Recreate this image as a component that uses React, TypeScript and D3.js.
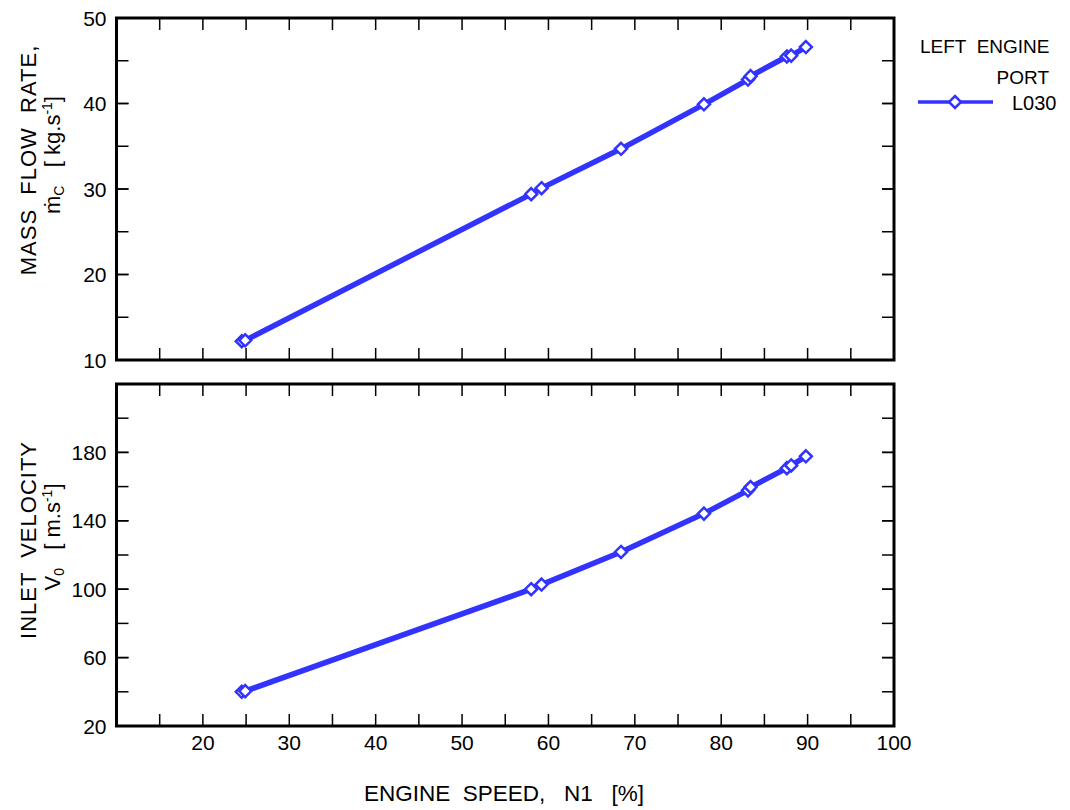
import * as d3 from "d3";

// engine speed N1 [%] for each test point
const n1 = [24.5, 24.9, 58.0, 59.2, 68.4, 78.0, 83.1, 83.4, 87.6, 88.1, 89.8];
// mass flow rate [kg/s]
const massFlow = [12.2, 12.3, 29.4, 30.1, 34.7, 39.9, 42.8, 43.2, 45.5, 45.6, 46.6];
// inlet velocity [m/s]
const velocity = [40.0, 40.4, 100.0, 102.7, 121.8, 144.2, 157.8, 159.7, 170.8, 172.4, 177.7];

const xTicks = d3.range(15, 100, 5);
const xLabels = [20, 30, 40, 50, 60, 70, 80, 90, 100];
const flowTicks = [15, 20, 25, 30, 35, 40, 45];
const flowLabels = [10, 20, 30, 40, 50];
const velTicks = [40, 60, 80, 100, 120, 140, 160, 180, 200];
const velLabels = [20, 60, 100, 140, 180];

const BLUE = "#3333ff";
const FONT = "'Liberation Sans', Arial, sans-serif";
const TICK = 12;

const x = d3.scaleLinear().domain([10, 100]).range([116.5, 894]);
const yFlow = d3.scaleLinear().domain([10, 50]).range([360, 18]);
const yVel = d3.scaleLinear().domain([20, 220]).range([726, 384]);

const diamond = (r: number) => `M0,${-r}L${r},0L0,${r}L${-r},0Z`;

const Panel = ({ y, ys, ticks, labels }: { y: d3.ScaleLinear<number, number>; ys: number[]; ticks: number[]; labels: number[] }) => {
  const [x0, x1] = x.range();
  const [yb, yt] = y.range();
  const pts: [number, number][] = n1.map((v, i) => [x(v), y(ys[i])]);
  const line = d3.line()(pts) || "";
  const yAll = [...ticks, ...labels.filter(v => v !== y.domain()[0] && v !== y.domain()[1])];
  return (
    <g>
      {/* ticks on all four sides, pointing inward */}
      {xTicks.map(t => (
        <g key={"x" + t} stroke="#000" strokeWidth={1.5}>
          <line x1={x(t)} x2={x(t)} y1={yb} y2={yb - TICK} />
          <line x1={x(t)} x2={x(t)} y1={yt} y2={yt + TICK} />
        </g>
      ))}
      {yAll.map(t => (
        <g key={"y" + t} stroke="#000" strokeWidth={1.5}>
          <line x1={x0} x2={x0 + TICK} y1={y(t)} y2={y(t)} />
          <line x1={x1} x2={x1 - TICK} y1={y(t)} y2={y(t)} />
        </g>
      ))}
      <rect x={x0} y={yt} width={x1 - x0} height={yb - yt} fill="none" stroke="#000" strokeWidth={3} />
      {labels.map(t => (
        <text key={"l" + t} x={x0 - 10} y={y(t)} dy="0.36em" textAnchor="end" fontSize={21} fontFamily={FONT}>
          {t}
        </text>
      ))}
      <path d={line} fill="none" stroke={BLUE} strokeWidth={5.5} strokeLinejoin="round" />
      {pts.map((p, i) => (
        <path key={i} d={diamond(6)} transform={`translate(${p[0]},${p[1]})`} fill="#fff" stroke={BLUE} strokeWidth={2.5} />
      ))}
    </g>
  );
};

export default function App() {
  return (
    <svg width={1070} height={810} style={{ position: "absolute", left: 0, top: 0, background: "#fff" }}>
      <Panel y={yFlow} ys={massFlow} ticks={flowTicks} labels={flowLabels} />
      <Panel y={yVel} ys={velocity} ticks={velTicks} labels={velLabels} />

      {/* x tick labels */}
      {xLabels.map(t => (
        <text key={t} x={x(t)} y={750} textAnchor="middle" fontSize={21} fontFamily={FONT}>
          {t}
        </text>
      ))}
      <text x={504} y={801} textAnchor="middle" fontSize={22.5} fontFamily={FONT} xmlSpace="preserve">
        {"ENGINE  SPEED,   N1   [%]"}
      </text>

      {/* y axis titles */}
      <g fontSize={22} fontFamily={FONT}>
        <text transform="translate(36,160) rotate(-90)" textAnchor="middle" letterSpacing={1} xmlSpace="preserve">{"MASS  FLOW  RATE,"}</text>
        <text transform="translate(60,155) rotate(-90)" textAnchor="middle" xmlSpace="preserve">
          {"ṁ"}
          <tspan fontSize={14} dy={4}>C</tspan>
          <tspan dy={-4}>{"   [ kg.s"}</tspan>
          <tspan fontSize={14} dy={-8}>-1</tspan>
          <tspan dy={8}>]</tspan>
        </text>
        <text transform="translate(36,540) rotate(-90)" textAnchor="middle" letterSpacing={1} xmlSpace="preserve">{"INLET  VELOCITY"}</text>
        <text transform="translate(60,537) rotate(-90)" textAnchor="middle" xmlSpace="preserve">
          {"V"}
          <tspan fontSize={14} dy={4}>0</tspan>
          <tspan dy={-4}>{"   [ m.s"}</tspan>
          <tspan fontSize={14} dy={-8}>-1</tspan>
          <tspan dy={8}>]</tspan>
        </text>
      </g>

      {/* legend */}
      <g fontSize={19} fontFamily={FONT}>
        <text x={920} y={53} xmlSpace="preserve">{"LEFT  ENGINE"}</text>
        <text x={1049} y={84} textAnchor="end">PORT</text>
        <line x1={918} x2={993} y1={102} y2={102} stroke={BLUE} strokeWidth={3.5} />
        <path d={diamond(6)} transform="translate(955,102)" fill="#fff" stroke={BLUE} strokeWidth={2.5} />
        <text x={1012} y={110} fontSize={20}>L030</text>
      </g>
    </svg>
  );
}
